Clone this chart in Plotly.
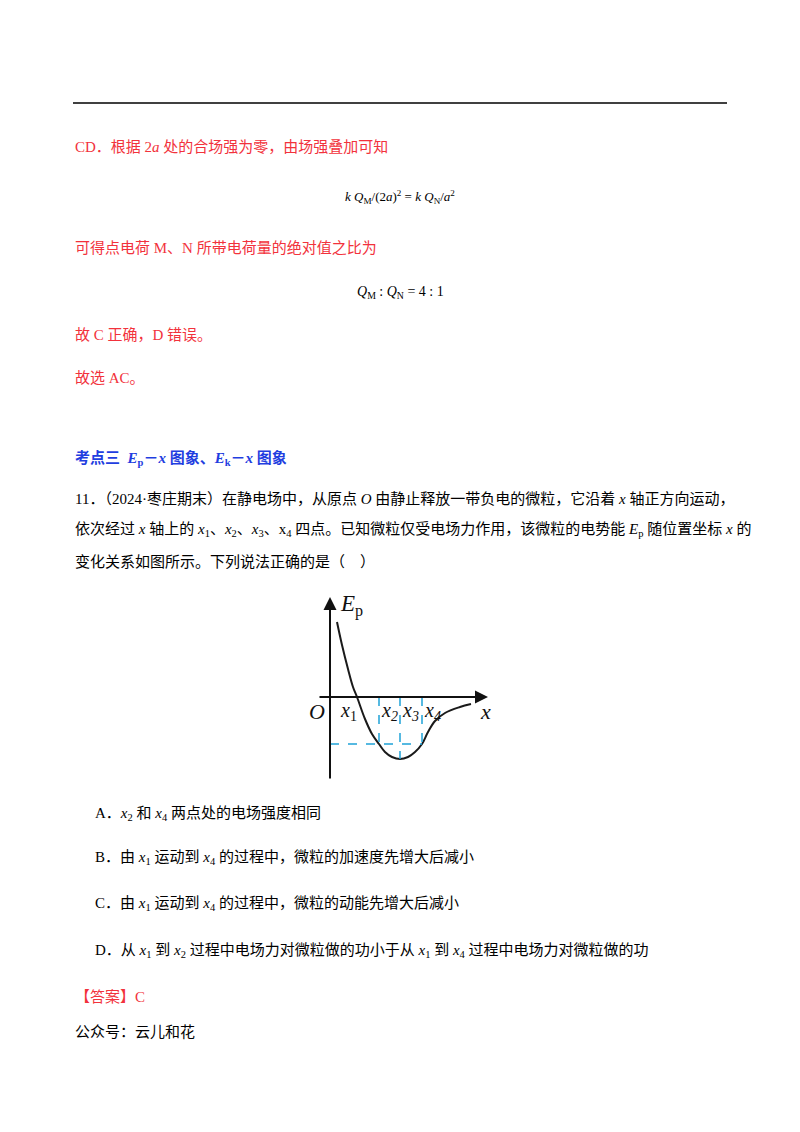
import plotly.graph_objects as go

W, H = 800, 1132
OFF = 8  # page body margin

# Ep-x curve (inset units: pixels from origin, y up)
curve_x = [7, 12, 18, 23, 27, 35, 42, 49, 55, 62, 70, 78, 85, 92, 98, 105, 115, 130, 141]
curve_y = [75, 52, 28, 10, 0, -22, -37, -47, -55, -60, -62, -60, -55, -47, -35, -24, -16, -10, -7]
marks_x = [49, 70, 92]
marks_y = [-47, -62, -47]
mark_labels = ["x<sub>2</sub>", "x<sub>3</sub>", "x<sub>4</sub>"]

RED = "#f2323c"
BLUE = "#1f3ee0"
SERIF = "Liberation Serif, Noto Sans CJK SC"

fig = go.Figure()
fig.add_trace(go.Scatter(x=[OFF, W], y=[OFF, H], mode="markers", marker=dict(opacity=0),
                         xaxis="x", yaxis="y", hoverinfo="skip"))
fig.add_trace(go.Scatter(x=curve_x, y=curve_y, mode="lines", line=dict(color="#1a1a1a", width=2),
                         line_shape="spline", xaxis="x2", yaxis="y2"))
for mx, my in zip(marks_x, marks_y):
    fig.add_trace(go.Scatter(x=[mx, mx], y=[0, my], mode="lines",
                             line=dict(color="#1fa3d8", width=1.5, dash="dash"), xaxis="x2", yaxis="y2"))
fig.add_trace(go.Scatter(x=[0, marks_x[-1]], y=[marks_y[-1]] * 2, mode="lines",
                         line=dict(color="#1fa3d8", width=1.5, dash="dash"), xaxis="x2", yaxis="y2"))

texts = [
    (73, 147, 'CD．根据 2<i>a</i> 处的合场强为零，由场强叠加可知', RED),
    (73, 248, '可得点电荷 M、N 所带电荷量的绝对值之比为', RED),
    (73, 335, '故 C 正确，D 错误。', RED),
    (73, 378, '故选 AC。', RED),
    (73, 458, '<b>考点三  <i>E</i><sub>p</sub>－<i>x</i> 图象、<i>E</i><sub>k</sub>－<i>x</i> 图象</b>', BLUE),
    (73, 498, '11．（2024·枣庄期末）在静电场中，从原点 <i>O</i> 由静止释放一带负电的微粒，它沿着 <i>x</i> 轴正方向运动，', "black"),
    (73, 530, '依次经过 <i>x</i> 轴上的 <i>x</i><sub>1</sub>、<i>x</i><sub>2</sub>、<i>x</i><sub>3</sub>、x<sub>4</sub> 四点。已知微粒仅受电场力作用，该微粒的电势能 <i>E</i><sub>p</sub> 随位置坐标 <i>x</i> 的', "black"),
    (73, 562, '变化关系如图所示。下列说法正确的是（    ）', "black"),
    (93, 814, 'A．<i>x</i><sub>2</sub> 和 <i>x</i><sub>4</sub> 两点处的电场强度相同', "black"),
    (93, 858, 'B．由 <i>x</i><sub>1</sub> 运动到 <i>x</i><sub>4</sub> 的过程中，微粒的加速度先增大后减小', "black"),
    (93, 904, 'C．由 <i>x</i><sub>1</sub> 运动到 <i>x</i><sub>4</sub> 的过程中，微粒的动能先增大后减小', "black"),
    (93, 951, 'D．从 <i>x</i><sub>1</sub> 到 <i>x</i><sub>2</sub> 过程中电场力对微粒做的功小于从 <i>x</i><sub>1</sub> 到 <i>x</i><sub>4</sub> 过程中电场力对微粒做的功', "black"),
    (73, 996, '【答案】C', RED),
    (73, 1032, '公众号：云儿和花', "black"),
]
ann = []
for x, y, t, c in texts:
    ann.append(dict(x=x, y=y, xref="x", yref="y", text=t, showarrow=False, xanchor="left",
                    yanchor="middle", font=dict(size=15, color=c, family=SERIF)))
ann += [
    dict(x=400, y=197, xref="x", yref="y", showarrow=False,
         text='<i>k</i> <i>Q</i><sub>M</sub>/(2<i>a</i>)<sup>2</sup> = <i>k</i> <i>Q</i><sub>N</sub>/<i>a</i><sup>2</sup>',
         font=dict(size=13, color="black", family=SERIF)),
    dict(x=400, y=292, xref="x", yref="y", showarrow=False,
         text='<i>Q</i><sub>M</sub> : <i>Q</i><sub>N</sub> = 4 : 1',
         font=dict(size=14, color="black", family=SERIF)),
    # axes arrows
    dict(x=0, y=100, ax=0, ay=-83, xref="x2", yref="y2", axref="x2", ayref="y2", text="",
         showarrow=True, arrowhead=2, arrowsize=1.3, arrowwidth=2, arrowcolor="#111"),
    dict(x=158, y=0, ax=-12, ay=0, xref="x2", yref="y2", axref="x2", ayref="y2", text="",
         showarrow=True, arrowhead=2, arrowsize=1.3, arrowwidth=2, arrowcolor="#111"),
    dict(x=8, y=92, xref="x2", yref="y2", text="<i>E</i><sub>p</sub>", showarrow=False,
         xanchor="left", font=dict(size=23, family=SERIF, color="#111")),
    dict(x=-3, y=-14, xref="x2", yref="y2", text="<i>O</i>", showarrow=False,
         xanchor="right", font=dict(size=22, family=SERIF, color="#111")),
    dict(x=155, y=-14, xref="x2", yref="y2", text="<i>x</i>", showarrow=False,
         font=dict(size=22, family=SERIF, color="#111")),
    dict(x=18, y=-14, xref="x2", yref="y2", text="<i>x</i><sub>1</sub>", showarrow=False,
         font=dict(size=20, family=SERIF, color="#111")),
]
for mx, lab in zip(marks_x, mark_labels):
    ann.append(dict(x=mx + 10, y=-14, xref="x2", yref="y2", text="<i>%s</i>" % lab, showarrow=False,
                    font=dict(size=20, family=SERIF, color="#111")))

fig.add_shape(type="line", x0=73, x1=727, y0=103, y1=103, xref="x", yref="y",
              line=dict(color="black", width=1.5))

fig.update_layout(
    width=W, height=H, margin=dict(l=0, r=0, t=0, b=0), showlegend=False,
    plot_bgcolor="white", paper_bgcolor="white", annotations=ann,
    xaxis=dict(range=[OFF, W + OFF], visible=False, domain=[0, 1]),
    yaxis=dict(range=[H + OFF, OFF], visible=False, domain=[0, 1]),
    xaxis2=dict(range=[-10, 165], visible=False, domain=[(320 - OFF) / W, (495 - OFF) / W], anchor="y2"),
    yaxis2=dict(range=[-83, 107], visible=False, domain=[1 - (780 - OFF) / H, 1 - (590 - OFF) / H], anchor="x2"),
)
fig.write_html("out.html")
